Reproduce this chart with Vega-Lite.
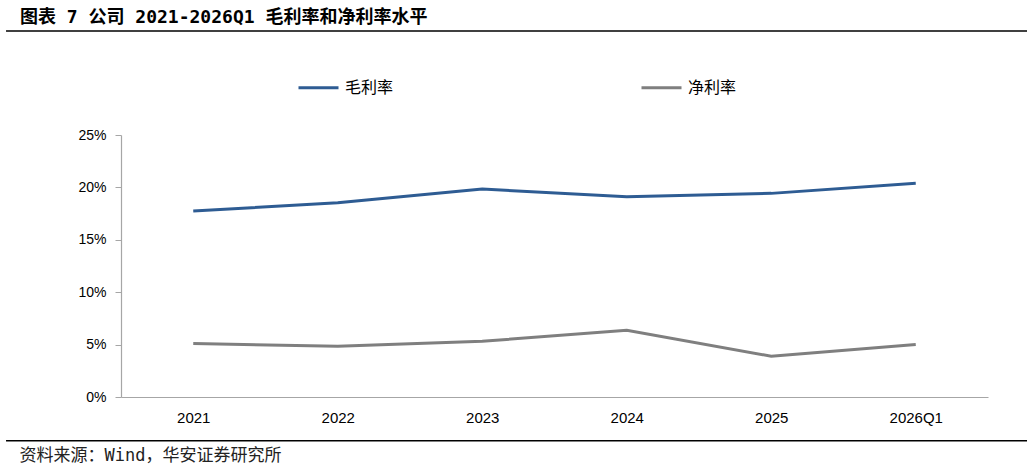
{
  "$schema": "https://vega.github.io/schema/vega-lite/v6.json",
  "width": 867,
  "height": 262,
  "autosize": {"type": "none"},
  "padding": {"left": 121, "top": 135, "right": 47, "bottom": 70},
  "background": "white",
  "title": {
    "text": "图表 7 公司 2021-2026Q1 毛利率和净利率水平",
    "anchor": "start",
    "frame": "group",
    "font": "DejaVu Sans Mono, Noto Sans CJK SC",
    "fontSize": 18,
    "fontWeight": "bold",
    "color": "#000000",
    "dx": -101,
    "offset": 3
  },
  "data": {
    "values": [
      {"period": "2021", "series": "毛利率", "value": 0.1774},
      {"period": "2022", "series": "毛利率", "value": 0.1853},
      {"period": "2023", "series": "毛利率", "value": 0.1984},
      {"period": "2024", "series": "毛利率", "value": 0.1910},
      {"period": "2025", "series": "毛利率", "value": 0.1943},
      {"period": "2026Q1", "series": "毛利率", "value": 0.2039},
      {"period": "2021", "series": "净利率", "value": 0.0510},
      {"period": "2022", "series": "净利率", "value": 0.0484},
      {"period": "2023", "series": "净利率", "value": 0.0532},
      {"period": "2024", "series": "净利率", "value": 0.0637},
      {"period": "2025", "series": "净利率", "value": 0.0389},
      {"period": "2026Q1", "series": "净利率", "value": 0.0500}
    ]
  },
  "layer": [
    {
      "mark": {"type": "line", "strokeWidth": 3},
      "encoding": {
        "x": {
          "field": "period",
          "type": "ordinal",
          "sort": null,
          "scale": {"type": "point", "padding": 0.5},
          "axis": {
            "title": "资料来源：Wind，华安证券研究所",
            "titleFont": "DejaVu Sans Mono, Noto Sans CJK SC",
            "titleFontSize": 17,
            "titleFontWeight": "normal",
            "titleColor": "#222222",
            "titleAnchor": "start",
            "titleAlign": "left",
            "titleBaseline": "middle",
            "titleX": -102,
            "titleY": 58,
            "labelAngle": 0,
            "labelFont": "Liberation Sans",
            "labelFontSize": 15,
            "labelColor": "#000000",
            "labelPadding": 13,
            "ticks": false,
            "domainColor": "#a6a6a6",
            "domainWidth": 1.2,
            "grid": false
          }
        },
        "y": {
          "field": "value",
          "type": "quantitative",
          "scale": {"domain": [0, 0.25], "nice": false},
          "axis": {
            "title": null,
            "values": [0, 0.05, 0.1, 0.15, 0.2, 0.25],
            "format": ".0%",
            "labelFont": "Liberation Sans",
            "labelFontSize": 14,
            "labelColor": "#000000",
            "labelPadding": 9,
            "tickSize": 6,
            "tickColor": "#a6a6a6",
            "domainColor": "#a6a6a6",
            "domainWidth": 1.2,
            "grid": false
          }
        },
        "color": {
          "field": "series",
          "type": "nominal",
          "scale": {"domain": ["毛利率", "净利率"], "range": ["#2E5C93", "#7F7F7F"]},
          "legend": {
            "title": null,
            "orient": "none",
            "direction": "horizontal",
            "legendX": 176,
            "legendY": -69,
            "symbolType": "stroke",
            "symbolSize": 1600,
            "symbolStrokeWidth": 3,
            "labelOffset": 5,
            "labelFont": "Noto Sans CJK SC",
            "labelFontSize": 16,
            "labelColor": "#000000",
            "columnPadding": 241
          }
        }
      }
    },
    {
      "data": {"values": [{}]},
      "mark": {"type": "rule", "color": "#000000", "strokeWidth": 1.5},
      "encoding": {
        "x": {"datum": -0.1326, "type": "quantitative", "scale": {"domain": [0, 1]}, "axis": null},
        "x2": {"datum": 1.045},
        "y": {"datum": 0.3492}
      }
    },
    {
      "data": {"values": [{}]},
      "mark": {"type": "rule", "color": "#000000", "strokeWidth": 1.5},
      "encoding": {
        "x": {"datum": -0.1326, "type": "quantitative", "scale": {"domain": [0, 1]}, "axis": null},
        "x2": {"datum": 1.045},
        "y": {"datum": -0.0417}
      }
    }
  ],
  "resolve": {"scale": {"x": "independent"}},
  "config": {"view": {"stroke": null}}
}
